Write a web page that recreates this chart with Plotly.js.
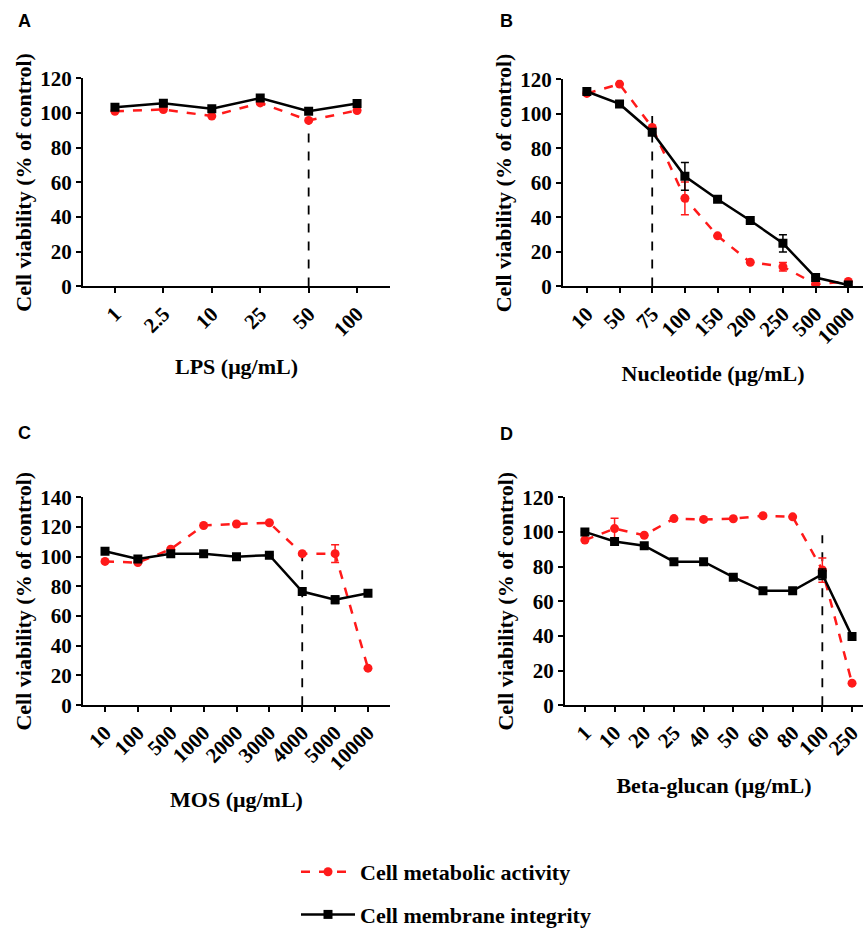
<!DOCTYPE html>
<html><head><meta charset="utf-8">
<script src="https://cdn.plot.ly/plotly-3.0.1.min.js"></script>
<style>html,body{margin:0;padding:0;background:#fff;overflow:hidden;width:100%;height:100%}#chart{width:100%;height:100%;display:block;overflow:hidden}</style>
</head><body><div id="chart"></div>
<script>
// Panel A – LPS
const catA = ['1','2.5','10','25','50','100'];
const memA = [103.4,105.7,102.5,108.7,101.1,105.5];
const metA = [101.1,102.1,98.3,105.9,95.8,101.5];
const cutA = '50', cutTopA = 96;
// Panel B – Nucleotide
const catB = ['10','50','75','100','150','200','250','500','1000'];
const memB = [113,105.8,89.4,63.8,50.5,38.2,25,5.1,0.8];
const memBerr = [0,0,0,8,0,0,5,0,0];
const metB = [111.9,117.3,92.2,51.1,29.3,14,11.4,1.3,2.8];
const metBerr = [0,0,0,9.5,0,0,2.5,0,0];
const cutB = '75', cutTopB = 98.8;
// Panel C – MOS
const catC = ['10','100','500','1000','2000','3000','4000','5000','10000'];
const memC = [103.6,98.5,102,102,100,101,76.5,71,75.4];
const memCerr = [0,0,0,0,0,0,0,2.5,0];
const metC = [96.8,96,105,121,122,122.8,102,102,24.9];
const metCerr = [0,0,0,0,0,0,0,6,0];
const cutC = '4000', cutTopC = 101;
// Panel D – Beta-glucan
const catD = ['1','10','20','25','40','50','60','80','100','250'];
const memD = [100,94.5,92,82.8,82.8,73.9,66,66,75.6,39.7];
const memDerr = [0,0,0,0,0,0,0,0,3,0];
const metD = [95.3,101.9,98.1,107.7,107.2,107.6,109.3,108.7,78,12.7];
const metDerr = [0,6,0,0,0,0,0,0,7,0];
const cutD = '100', cutTopD = 98;

const seriesNames = ['Cell metabolic activity','Cell membrane integrity'];
const RED = '#ff1a1a', BLK = '#000000';
const serif = '"Times New Roman", "Liberation Serif", Times, serif';

function panel(ax, cats, met, metErr, mem, memErr, cut, cutTop, showLeg) {
  const xa = 'x' + (ax === 1 ? '' : ax), ya = 'y' + (ax === 1 ? '' : ax);
  const tr = [];
  tr.push({x:[cut,cut], y:[0,cutTop], xaxis:xa, yaxis:ya, mode:'lines', showlegend:false,
    line:{color:BLK, width:1.8, dash:'dash'}, hoverinfo:'skip'});
  tr.push({x:cats, y:met, xaxis:xa, yaxis:ya, mode:'lines+markers', name:seriesNames[0],
    legendgroup:'met', legendrank:1, showlegend:showLeg,
    line:{color:RED, width:2.5, dash:'dash'}, marker:{symbol:'circle', size:9, color:RED},
    error_y: metErr ? {type:'data', array:metErr, visible:true, color:RED, thickness:1.5, width:4} : undefined});
  tr.push({x:cats, y:mem, xaxis:xa, yaxis:ya, mode:'lines+markers', name:seriesNames[1],
    legendgroup:'mem', legendrank:2, showlegend:showLeg,
    line:{color:BLK, width:2.5}, marker:{symbol:'square', size:9, color:BLK},
    error_y: memErr ? {type:'data', array:memErr, visible:true, color:BLK, thickness:1.5, width:4} : undefined});
  return tr;
}

const data = [].concat(
  panel(1, catA, metA, null, memA, null, cutA, cutTopA, true),
  panel(2, catB, metB, metBerr, memB, memBerr, cutB, cutTopB, false),
  panel(3, catC, metC, metCerr, memC, memCerr, cutC, cutTopC, false),
  panel(4, catD, metD, metDerr, memD, memDerr, cutD, cutTopD, false)
);

// layout is designed on an 863x936 grid and expressed as fractions
const RW = 863, RH = 936;
const W = document.documentElement.clientWidth || RW;
const H = document.documentElement.clientHeight || RH;
const px = (a,b)=>[a/RW, b/RW];
const py = (top,bot)=>[1-bot/RH, 1-top/RH];
const tickFont = {family:serif, size:21, color:'#000', weight:'bold'};
const titleFont = {family:serif, size:22, color:'#000', weight:'bold'};

function xaxis(dom, range, title, anchor, cats) {
  return {domain:dom, range:range, type:'category', categoryorder:'array', categoryarray:cats,
    anchor:anchor, showline:true, linecolor:'#000', linewidth:2, ticks:'outside', ticklen:5,
    tickwidth:2, tickcolor:'#000', tickangle:-45, tickfont:tickFont, showgrid:false, zeroline:false,
    title:{text:title, font:titleFont, standoff:18}};
}
function yaxis(dom, range, dtick, anchor) {
  return {domain:dom, range:range, dtick:dtick, anchor:anchor, showline:true, linecolor:'#000', linewidth:2,
    ticks:'outside', ticklen:5, tickwidth:2, tickcolor:'#000', tickfont:tickFont, showgrid:false,
    zeroline:false, title:{text:'Cell viability (% of control)', font:titleFont, standoff:3}};
}

const layout = {
  width:W, height:H, margin:{l:0,r:0,t:0,b:0}, paper_bgcolor:'#fff', plot_bgcolor:'#fff',
  showlegend:true,
  legend:{x:296/RW, y:1-868/RH, xanchor:'left', yanchor:'top', font:{family:serif, size:22, color:'#000', weight:'bold'},
    traceorder:'grouped', tracegroupgap:11, itemwidth:54, bgcolor:'rgba(0,0,0,0)'},
  xaxis: xaxis(px(83,390), [-0.66,5.68], 'LPS (μg/mL)', 'y', catA),
  yaxis: yaxis(py(80,292), [0,120], 20, 'x'),
  xaxis2: xaxis(px(563,863), [-0.73,8.45], 'Nucleotide (μg/mL)', 'y2', catB),
  yaxis2: yaxis(py(81,292), [0,120], 20, 'x2'),
  xaxis3: xaxis(px(83,390), [-0.67,8.67], 'MOS (μg/mL)', 'y3', catC),
  yaxis3: yaxis(py(507,719), [0,140], 20, 'x3'),
  xaxis4: xaxis(px(565,863), [-0.67,9.37], 'Beta-glucan (μg/mL)', 'y4', catD),
  yaxis4: yaxis(py(507,719), [0,120], 20, 'x4'),
  annotations: [
    ['A',16,21],['B',498,21],['C',16,441],['D',498,443]
  ].map(([t,x,y])=>({text:t, x:x/RW, y:1-y/RH, xref:'paper', yref:'paper', xanchor:'left', yanchor:'middle',
    showarrow:false, font:{family:'"Liberation Sans", Arial, sans-serif', size:18, color:'#000', weight:'bold'}}))
};

Plotly.newPlot('chart', data, layout, {staticPlot:true});
</script></body></html>
